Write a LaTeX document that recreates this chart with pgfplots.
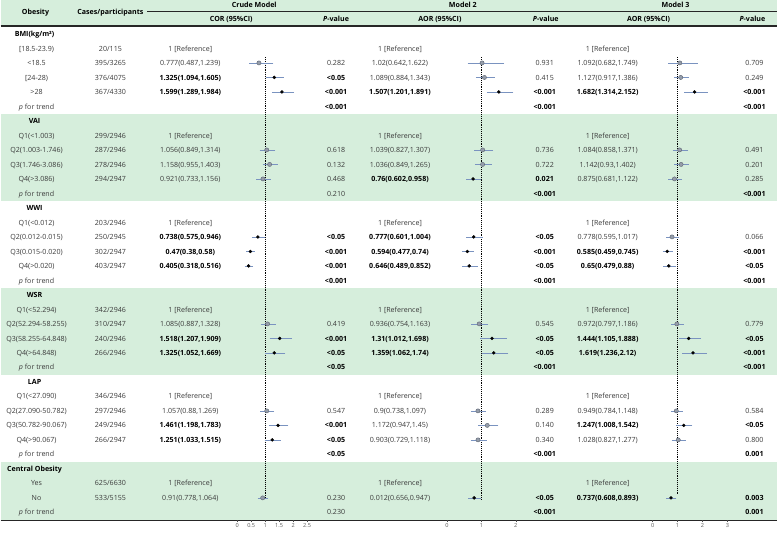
\documentclass[border=0pt]{standalone}
\usepackage{pgfplots}
\pgfplotsset{compat=1.18}
\usepackage{pgfplotstable}
\usepackage{fontspec}
\setmainfont{Open Sans}
\definecolor{band}{HTML}{D6EEDC}
\definecolor{txt}{HTML}{3A3A3A}
\definecolor{ci}{HTML}{7A93C0}
\definecolor{nsfill}{HTML}{959DAA}
\definecolor{nsdraw}{HTML}{5A6270}

% row = table row (0 = BMI header), or = point, lo/hi = 95% CI
\pgfplotstableread{
row or lo hi
2 0.777 0.487 1.239
8 1.056 0.849 1.314
9 1.158 0.955 1.403
10 0.921 0.733 1.156
20 1.085 0.887 1.328
26 1.057 0.88 1.269
32 0.91 0.778 1.064
}\crudeNS
\pgfplotstableread{
row or lo hi
3 1.325 1.094 1.605
4 1.599 1.289 1.984
14 0.738 0.575 0.946
15 0.47 0.38 0.58
16 0.405 0.318 0.516
21 1.518 1.207 1.909
22 1.325 1.052 1.669
27 1.461 1.198 1.783
28 1.251 1.033 1.515
}\crudeS
\pgfplotstableread{
row or lo hi
2 1.02 0.642 1.622
3 1.089 0.884 1.343
8 1.039 0.827 1.307
9 1.036 0.849 1.265
20 0.936 0.754 1.163
26 0.9 0.738 1.097
27 1.172 0.947 1.45
28 0.903 0.729 1.118
}\mtwoNS
\pgfplotstableread{
row or lo hi
4 1.507 1.201 1.891
10 0.76 0.602 0.958
14 0.777 0.601 1.004
15 0.594 0.477 0.74
16 0.646 0.489 0.852
21 1.31 1.012 1.698
22 1.359 1.062 1.74
32 0.79 0.656 0.947
}\mtwoS
\pgfplotstableread{
row or lo hi
2 1.092 0.682 1.749
3 1.127 0.917 1.386
8 1.084 0.858 1.371
9 1.142 0.93 1.402
10 0.875 0.681 1.122
14 0.778 0.595 1.017
20 0.972 0.797 1.186
26 0.949 0.784 1.148
28 1.028 0.827 1.277
}\mthreeNS
\pgfplotstableread{
row or lo hi
4 1.682 1.314 2.152
15 0.585 0.459 0.745
16 0.65 0.479 0.88
21 1.444 1.105 1.888
22 1.619 1.236 2.12
27 1.247 1.008 1.542
32 0.737 0.608 0.893
}\mthreeS

\pgfplotsset{
  forest/.style={
    scale only axis, height=494pt, ymin=-33.54, ymax=0.482,
    hide y axis, axis x line*=bottom, axis line style={draw=none},
    tick align=outside, major tick length=2pt,
    xtick style={black!70, line width=0.4pt},
    xticklabel style={font=\fontsize{5.6}{6.5}\selectfont, text=black!65, inner sep=1pt},
    /pgf/number format/assume math mode=true,
    clip=false, anchor=south west,
  },
  nsig/.style={only marks, mark=*, mark size=2.1pt,
    mark options={fill=nsfill, draw=nsdraw, line width=0.4pt},
    error bars/.cd, x dir=both, x explicit,
    error bar style={ci, line width=0.5pt},
    error mark options={ci, mark size=1.4pt, line width=0.45pt}},
  sig/.style={only marks, mark=*, mark size=1.5pt,
    mark options={fill=black, draw=black},
    error bars/.cd, x dir=both, x explicit,
    error bar style={ci, line width=0.5pt},
    error mark options={ci, mark size=1.4pt, line width=0.45pt}},
}

\newcommand\B[1]{\textbf{\color{black}#1}}
\tikzset{cell/.style={anchor=base, inner sep=0pt, font=\fontsize{7.1}{8}\selectfont, text=txt}}
\newcommand\R[9]{%
  \node[cell] at (36,{34+14.52*#1+2.6}) {#2};
  \node[cell] at (110,{34+14.52*#1+2.6}) {#3};
  \node[cell] at (190,{34+14.52*#1+2.6}) {#4};
  \node[cell] at (336,{34+14.52*#1+2.6}) {#5};
  \node[cell] at (400,{34+14.52*#1+2.6}) {#6};
  \node[cell] at (545,{34+14.52*#1+2.6}) {#7};
  \node[cell] at (608,{34+14.52*#1+2.6}) {#8};
  \node[cell] at (755,{34+14.52*#1+2.6}) {#9};}
\newcommand\G[2]{\node[cell] at (34,{34+14.52*#1+2.6}) {\B{#2}};}

\begin{document}
\begin{tikzpicture}
\begin{scope}[x=1pt, y=-1pt]
  \fill[white] (0,0) rectangle (778,539);
  \fill[band] (0,0) rectangle (778,26);
  \fill[band] (0,113.9) rectangle (778,201.0);
  \fill[band] (0,288.1) rectangle (778,375.2);
  \fill[band] (0,462.8) rectangle (778,521);
  \draw[black!85, line width=0.8pt] (147,11.7) -- (778,11.7);
  \draw[black!85, line width=1.2pt] (0,26) -- (778,26);
  \draw[black!85, line width=1.2pt] (0,521) -- (778,521);
  % headers
  \node[cell] at (35,14.6) {\B{Obesity}};
  \node[cell] at (110,14.6) {\B{Cases/participants}};
  \node[cell] at (254,7.6) {\B{Crude Model}};
  \node[cell] at (463,7.6) {\B{Model 2}};
  \node[cell] at (676,7.6) {\B{Model 3}};
  \node[cell] at (231,21.6) {\B{COR (95\%CI)}};
  \node[cell] at (336,21.6) {\B{\textit{P}-value}};
  \node[cell] at (440,21.6) {\B{AOR (95\%CI)}};
  \node[cell] at (546,21.6) {\B{\textit{P}-value}};
  \node[cell] at (649,21.6) {\B{AOR (95\%CI)}};
  \node[cell] at (753,21.6) {\B{\textit{P}-value}};
  % body
  \G{0}{BMI(kg/m²)}
  \R{1}{[18.5-23.9)}{20/115}{1 [Reference]}{}{1 [Reference]}{}{1 [Reference]}{}
  \R{2}{<18.5}{395/3265}{0.777(0.487,1.239)}{0.282}{1.02(0.642,1.622)}{0.931}{1.092(0.682,1.749)}{0.709}
  \R{3}{[24-28)}{376/4075}{\B{1.325(1.094,1.605)}}{\B{<0.05}}{1.089(0.884,1.343)}{0.415}{1.127(0.917,1.386)}{0.249}
  \R{4}{>28}{367/4330}{\B{1.599(1.289,1.984)}}{\B{<0.001}}{\B{1.507(1.201,1.891)}}{\B{<0.001}}{\B{1.682(1.314,2.152)}}{\B{<0.001}}
  \R{5}{\textit{p} for trend}{}{}{\B{<0.001}}{}{\B{<0.001}}{}{\B{<0.001}}
  \G{6}{VAI}
  \R{7}{Q1(<1.003)}{299/2946}{1 [Reference]}{}{1 [Reference]}{}{1 [Reference]}{}
  \R{8}{Q2(1.003-1.746)}{287/2946}{1.056(0.849,1.314)}{0.618}{1.039(0.827,1.307)}{0.736}{1.084(0.858,1.371)}{0.491}
  \R{9}{Q3(1.746-3.086)}{278/2946}{1.158(0.955,1.403)}{0.132}{1.036(0.849,1.265)}{0.722}{1.142(0.93,1.402)}{0.201}
  \R{10}{Q4(>3.086)}{294/2947}{0.921(0.733,1.156)}{0.468}{\B{0.76(0.602,0.958)}}{\B{0.021}}{0.875(0.681,1.122)}{0.285}
  \R{11}{\textit{p} for trend}{}{}{0.210}{}{\B{<0.001}}{}{\B{<0.001}}
  \G{12}{WWI}
  \R{13}{Q1(<0.012)}{203/2946}{1 [Reference]}{}{1 [Reference]}{}{1 [Reference]}{}
  \R{14}{Q2(0.012-0.015)}{250/2945}{\B{0.738(0.575,0.946)}}{\B{<0.05}}{\B{0.777(0.601,1.004)}}{\B{<0.05}}{0.778(0.595,1.017)}{0.066}
  \R{15}{Q3(0.015-0.020)}{302/2947}{\B{0.47(0.38,0.58)}}{\B{<0.001}}{\B{0.594(0.477,0.74)}}{\B{<0.001}}{\B{0.585(0.459,0.745)}}{\B{<0.001}}
  \R{16}{Q4(>0.020)}{403/2947}{\B{0.405(0.318,0.516)}}{\B{<0.001}}{\B{0.646(0.489,0.852)}}{\B{<0.05}}{\B{0.65(0.479,0.88)}}{\B{<0.05}}
  \R{17}{\textit{p} for trend}{}{}{\B{<0.001}}{}{\B{<0.001}}{}{\B{<0.001}}
  \G{18}{WSR}
  \R{19}{Q1(<52.294)}{342/2946}{1 [Reference]}{}{1 [Reference]}{}{1 [Reference]}{}
  \R{20}{Q2(52.294-58.255)}{310/2947}{1.085(0.887,1.328)}{0.419}{0.936(0.754,1.163)}{0.545}{0.972(0.797,1.186)}{0.779}
  \R{21}{Q3(58.255-64.848)}{240/2946}{\B{1.518(1.207,1.909)}}{\B{<0.001}}{\B{1.31(1.012,1.698)}}{\B{<0.05}}{\B{1.444(1.105,1.888)}}{\B{<0.05}}
  \R{22}{Q4(>64.848)}{266/2946}{\B{1.325(1.052,1.669)}}{\B{<0.05}}{\B{1.359(1.062,1.74)}}{\B{<0.05}}{\B{1.619(1.236,2.12)}}{\B{<0.001}}
  \R{23}{\textit{p} for trend}{}{}{\B{<0.05}}{}{\B{<0.001}}{}{\B{<0.001}}
  \G{24}{LAP}
  \R{25}{Q1(<27.090)}{346/2946}{1 [Reference]}{}{1 [Reference]}{}{1 [Reference]}{}
  \R{26}{Q2(27.090-50.782)}{297/2946}{1.057(0.88,1.269)}{0.547}{0.9(0.738,1.097)}{0.289}{0.949(0.784,1.148)}{0.584}
  \R{27}{Q3(50.782-90.067)}{249/2946}{\B{1.461(1.198,1.783)}}{\B{<0.001}}{1.172(0.947,1.45)}{0.140}{\B{1.247(1.008,1.542)}}{\B{<0.05}}
  \R{28}{Q4(>90.067)}{266/2947}{\B{1.251(1.033,1.515)}}{\B{<0.05}}{0.903(0.729,1.118)}{0.340}{1.028(0.827,1.277)}{0.800}
  \R{29}{\textit{p} for trend}{}{}{\B{<0.05}}{}{\B{<0.001}}{}{\B{0.001}}
  \G{30}{Central Obesity}
  \R{31}{Yes}{625/6630}{1 [Reference]}{}{1 [Reference]}{}{1 [Reference]}{}
  \R{32}{No}{533/5155}{0.91(0.778,1.064)}{0.230}{0.012(0.656,0.947)}{\B{<0.05}}{\B{0.737(0.608,0.893)}}{\B{0.003}}
  \R{33}{\textit{p} for trend}{}{}{0.230}{}{\B{<0.001}}{}{\B{0.001}}
\end{scope}

% Crude model
\begin{axis}[forest, at={(231.4pt,-521pt)}, width=81.2pt, xmin=-0.2, xmax=2.7,
  xtick={0,0.5,1,1.5,2,2.5}]
\addplot[black, densely dotted, line width=0.9pt] coordinates {(1,-1.6) (1,-32.0)};
\addplot[nsig] table[x=or, y expr=-\thisrow{row},
    x error plus expr=\thisrow{hi}-\thisrow{or},
    x error minus expr=\thisrow{or}-\thisrow{lo}] {\crudeNS};
\addplot[sig] table[x=or, y expr=-\thisrow{row},
    x error plus expr=\thisrow{hi}-\thisrow{or},
    x error minus expr=\thisrow{or}-\thisrow{lo}] {\crudeS};
\end{axis}

% Model 2
\begin{axis}[forest, at={(440.1pt,-521pt)}, width=82.8pt, xmin=-0.2, xmax=2.2,
  xtick={0,1,2}]
\addplot[black, densely dotted, line width=0.9pt] coordinates {(1,-1.6) (1,-32.1)};
\addplot[nsig] table[x=or, y expr=-\thisrow{row},
    x error plus expr=\thisrow{hi}-\thisrow{or},
    x error minus expr=\thisrow{or}-\thisrow{lo}] {\mtwoNS};
\addplot[sig] table[x=or, y expr=-\thisrow{row},
    x error plus expr=\thisrow{hi}-\thisrow{or},
    x error minus expr=\thisrow{or}-\thisrow{lo}] {\mtwoS};
\end{axis}

% Model 3
\begin{axis}[forest, at={(648pt,-521pt)}, width=85pt, xmin=-0.2, xmax=3.2,
  xtick={0,1,2,3}]
\addplot[black, densely dotted, line width=0.9pt] coordinates {(1,-1.6) (1,-31.8)};
\addplot[nsig] table[x=or, y expr=-\thisrow{row},
    x error plus expr=\thisrow{hi}-\thisrow{or},
    x error minus expr=\thisrow{or}-\thisrow{lo}] {\mthreeNS};
\addplot[sig] table[x=or, y expr=-\thisrow{row},
    x error plus expr=\thisrow{hi}-\thisrow{or},
    x error minus expr=\thisrow{or}-\thisrow{lo}] {\mthreeS};
\end{axis}
\end{tikzpicture}
\end{document}
